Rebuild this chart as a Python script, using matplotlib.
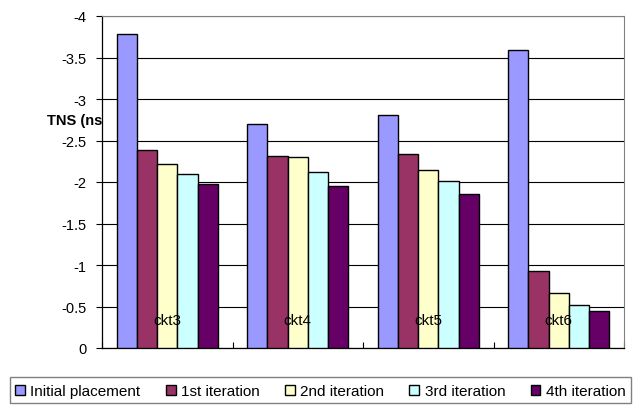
import matplotlib
matplotlib.use('Agg')
import matplotlib.pyplot as plt
from matplotlib.patches import Rectangle
import numpy as np

plt.rcParams['font.family'] = ['Liberation Sans', 'DejaVu Sans']

# TNS per circuit after each placement iteration (ns)
circuits = ['ckt3', 'ckt4', 'ckt5', 'ckt6']
series = ['Initial placement', '1st iteration', '2nd iteration', '3rd iteration', '4th iteration']
initial = [-3.78, -2.70, -2.81, -3.59]
iter1 = [-2.38, -2.31, -2.34, -0.93]
iter2 = [-2.22, -2.30, -2.14, -0.66]
iter3 = [-2.10, -2.12, -2.01, -0.52]
iter4 = [-1.97, -1.95, -1.85, -0.45]
colors = ['#9999FF', '#993366', '#FFFFCC', '#CCFFFF', '#660066']
yticks = [0, -0.5, -1, -1.5, -2, -2.5, -3, -3.5, -4]

W, H = 633, 406
fig = plt.figure(figsize=(W / 100, H / 100), dpi=100)
ax = fig.add_axes([102 / W, 1 - 349 / H, 522 / W, 332 / H])

x = np.arange(len(circuits))
width = 0.155
for i, (name, vals) in enumerate(zip(series, [initial, iter1, iter2, iter3, iter4])):
    ax.bar(x + (i - 2) * width, vals, width, color=colors[i], edgecolor='black',
           linewidth=1.0, label=name, zorder=3)

ax.set_xlim(-0.5, len(circuits) - 0.5)
ax.set_ylim(0, -4)
ax.set_yticks(yticks)
ax.set_yticklabels(['%g' % t for t in yticks], fontsize=10.5)
ax.yaxis.grid(True, color='black', linewidth=0.8, zorder=0)
ax.tick_params(axis='y', direction='out', length=4.5, width=0.8, pad=6.5)

# category boundaries as small inward ticks, names drawn inside the plot
ax.set_xticks(np.arange(len(circuits) + 1) - 0.5)
ax.set_xticklabels([])
ax.tick_params(axis='x', direction='in', length=4, width=0.8)
for xi, name in zip(x, circuits):
    ax.text(xi, -0.34, name, ha='center', va='center', fontsize=11, zorder=4)

for side in ['top', 'right']:
    ax.spines[side].set_color('#808080')
for side in ['left', 'bottom']:
    ax.spines[side].set_color('black')
    ax.spines[side].set_linewidth(0.9)

fig.text(102 / W, 1 - 121 / H, 'TNS (ns', ha='right', va='center',
         fontsize=10.5, fontweight='bold')

# legend frame across the bottom, entries laid out in one row inside it
fig.patches.append(Rectangle((10 / W, 1 - 404 / H), 621 / W, 26 / H,
                             transform=fig.transFigure, fill=False,
                             edgecolor='#808080', linewidth=1.0))
leg = fig.legend(loc='center left', bbox_to_anchor=(12 / W, 1 - 392 / H),
                 ncol=5, fontsize=11, handlelength=0.65, handleheight=0.65,
                 handletextpad=0.35, columnspacing=1.65, borderaxespad=0,
                 borderpad=0.2, frameon=False)

fig.savefig('out.png', dpi=100)
